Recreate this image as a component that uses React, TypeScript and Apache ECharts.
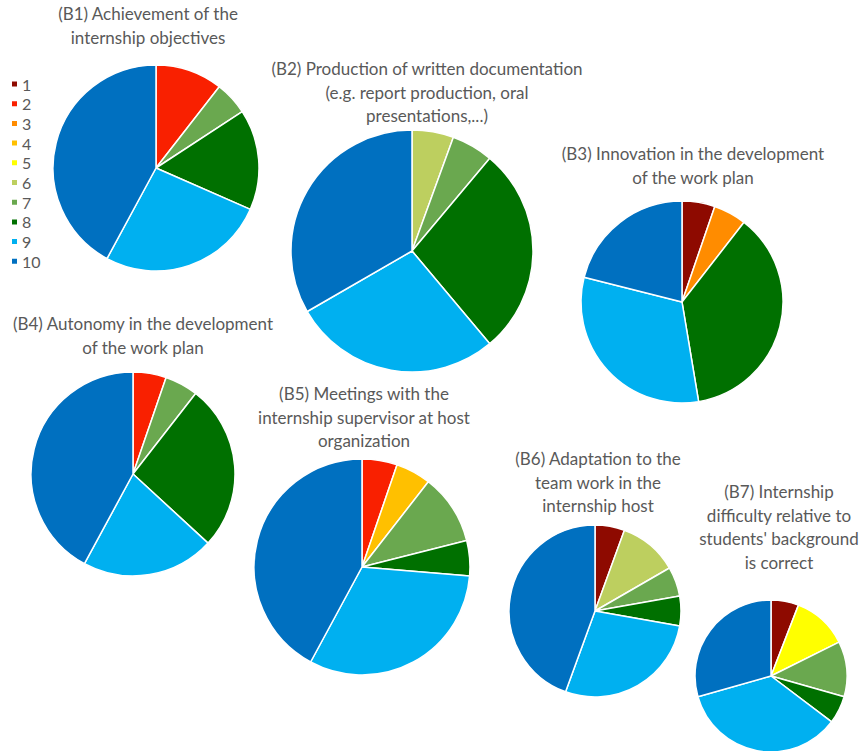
import React, { useEffect, useRef } from "react";
import * as echarts from "echarts";

const categories = ["1", "2", "3", "4", "5", "6", "7", "8", "9", "10"];
const palette = ["#8E0A00", "#F92000", "#FF8C00", "#FFC000", "#FFFF00", "#BDCF5F", "#6AA84F", "#007000", "#00B0F0", "#0070C0"];

const titles = [
  "(B1) Achievement of the\ninternship objectives",
  "(B2) Production of written documentation\n(e.g. report production, oral\npresentations,...)",
  "(B3) Innovation in the development\nof the work plan",
  "(B4) Autonomy in the development\nof the work plan",
  "(B5) Meetings with the\ninternship supervisor at host\norganization",
  "(B6) Adaptation to the\nteam work in the\ninternship host",
  "(B7) Internship\ndifficulty relative to\nstudents' background\nis correct",
];

const b1 = [0, 2, 0, 0, 0, 0, 1, 3, 5, 8];
const b2 = [0, 0, 0, 0, 0, 1, 1, 5, 5, 6];
const b3 = [1, 0, 1, 0, 0, 0, 0, 7, 6, 4];
const b4 = [0, 1, 0, 0, 0, 0, 1, 5, 4, 8];
const b5 = [0, 1, 0, 1, 0, 0, 2, 1, 6, 8];
const b6 = [1, 0, 0, 0, 0, 2, 1, 1, 5, 8];
const b7 = [1, 0, 0, 0, 2, 0, 2, 1, 6, 5];

const seriesValues = [b1, b2, b3, b4, b5, b6, b7];

// layout: pie center x, y, radius; title center x, top
const layout = [
  { cx: 156, cy: 168, r: 103, tx: 148, ty: 2 },
  { cx: 412, cy: 251, r: 121, tx: 427, ty: 57 },
  { cx: 682, cy: 302, r: 101, tx: 693, ty: 142 },
  { cx: 133, cy: 474, r: 102, tx: 143, ty: 312 },
  { cx: 362, cy: 567, r: 108, tx: 364, ty: 382 },
  { cx: 595, cy: 611, r: 86, tx: 598, ty: 447 },
  { cx: 771, cy: 676, r: 76, tx: 779, ty: 480 },
];

const FONT = "Lato";
const GREY = "#595959";

export default function App() {
  const ref = useRef<HTMLDivElement>(null);
  useEffect(() => {
    if (!ref.current) return;
    const chart = echarts.init(ref.current, null, { renderer: "svg" });
    const option = {
      animation: false,
      backgroundColor: "#ffffff",
      title: titles.map((t, i) => ({
        text: t,
        left: layout[i].tx,
        top: layout[i].ty,
        textAlign: "center",
        padding: 0,
        textStyle: {
          fontFamily: FONT,
          fontSize: 17,
          fontWeight: "normal",
          color: GREY,
          lineHeight: 23.5,
        },
      })),
      legend: {
        orient: "vertical",
        left: 10,
        top: 76,
        icon: "rect",
        itemWidth: 7,
        itemHeight: 7,
        itemGap: 3.7,
        padding: 0,
        data: categories,
        textStyle: { fontFamily: FONT, fontSize: 16, color: GREY, lineHeight: 14, padding: [0, 0, 0, -1] },
        selectedMode: false,
      },
      series: seriesValues.map((vals, i) => ({
        type: "pie",
        center: [layout[i].cx, layout[i].cy],
        radius: layout[i].r,
        startAngle: 90,
        clockwise: true,
        label: { show: false },
        labelLine: { show: false },
        emphasis: { disabled: true },
        itemStyle: { borderColor: "#ffffff", borderWidth: 1.5 },
        data: vals
          .map((v, k) => ({ name: categories[k], value: v, itemStyle: { color: palette[k] } }))
          .filter((d) => d.value > 0),
      })),
    };
    chart.setOption(option as any);
    return () => chart.dispose();
  }, []);
  return (
    <div
      ref={ref}
      style={{ position: "absolute", left: 0, top: 0, width: 861, height: 751 }}
    />
  );
}
